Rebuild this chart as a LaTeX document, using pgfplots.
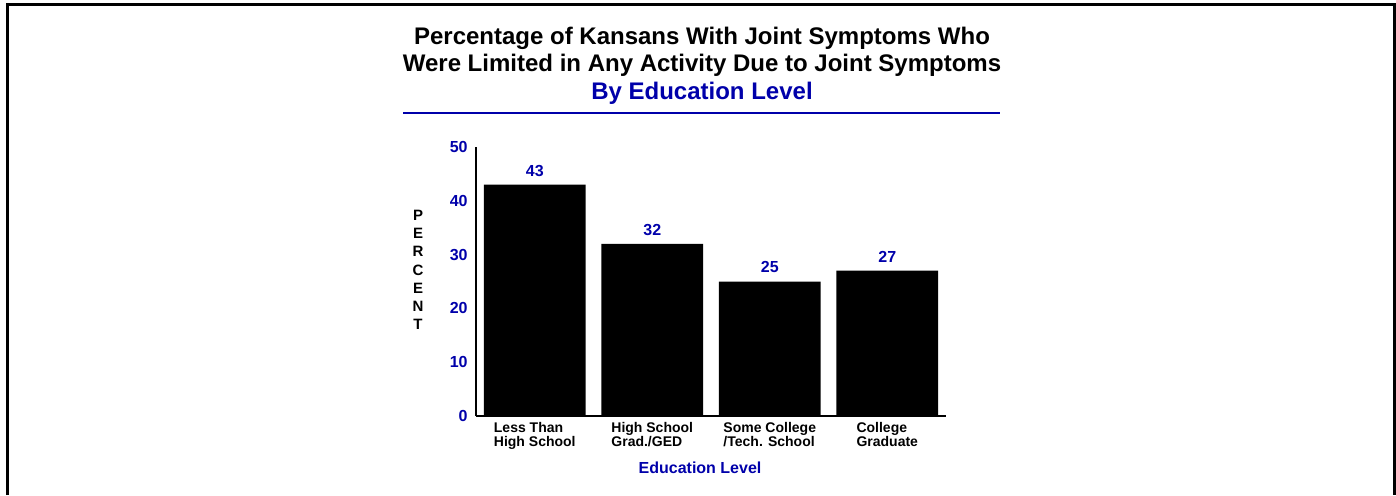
\documentclass[border=0pt]{standalone}
\usepackage{pgfplots}
\pgfplotsset{compat=1.18}
\usepackage{fontspec}
\setmainfont{Liberation Sans}
\definecolor{navy}{RGB}{0,0,170}
\begin{document}
\begin{tikzpicture}[x=1pt,y=1pt]
\useasboundingbox (0,0) rectangle (698,247.5);
% page frame (open at the bottom)
\draw[line width=1.5pt] (3.5,0) -- (3.5,245.5) -- (697,245.5) -- (697,0);
% titles
\node[font=\bfseries\fontsize{12}{14}\selectfont] at (351,228.5) {Percentage of Kansans With Joint Symptoms Who};
\node[font=\bfseries\fontsize{12}{14}\selectfont] at (351,215) {Were Limited in Any Activity Due to Joint Symptoms};
\node[font=\bfseries\fontsize{12}{14}\selectfont, text=navy] at (351,201) {By Education Level};
\draw[navy, line width=0.8pt] (201.5,191) -- (500,191);
% vertical axis title
\node[font=\bfseries\fontsize{7.5}{9.1}\selectfont, align=center] at (209,112.5) {P\\E\\R\\C\\E\\N\\T};
% horizontal axis title
\node[font=\bfseries\fontsize{8}{9}\selectfont, text=navy] at (350,13.5) {Education Level};
\begin{axis}[
  at={(238pt,39.5pt)}, anchor=south west,
  scale only axis, width=235pt, height=134.5pt,
  xmin=-0.5, xmax=3.5, ymin=0, ymax=50,
  axis x line=bottom, axis y line=left,
  axis line style={-, line width=1pt},
  major tick length=0pt,
  ytick={0,10,...,50},
  xtick={0,1,2,3},
  xticklabels={Less Than\\High School, High School\\Grad./GED, Some College\\/Tech. School, College\\Graduate},
  xticklabel style={font=\bfseries\fontsize{7}{7}\selectfont, align=left, inner sep=0pt, yshift=-3pt},
  yticklabel style={font=\bfseries\fontsize{8}{8}\selectfont, text=navy, inner sep=0pt, xshift=-4pt},
  /pgf/number format/assume math mode=true,
  clip=false,
]
\addplot[ybar, bar width=0.867, fill=black, draw=none,
  nodes near coords,
  every node near coord/.append style={font=\bfseries\fontsize{8}{8}\selectfont, text=navy, inner sep=0pt, anchor=south, yshift=4pt}]
  coordinates {(0,43) (1,32) (2,25) (3,27)};
\end{axis}
\end{tikzpicture}
\end{document}
